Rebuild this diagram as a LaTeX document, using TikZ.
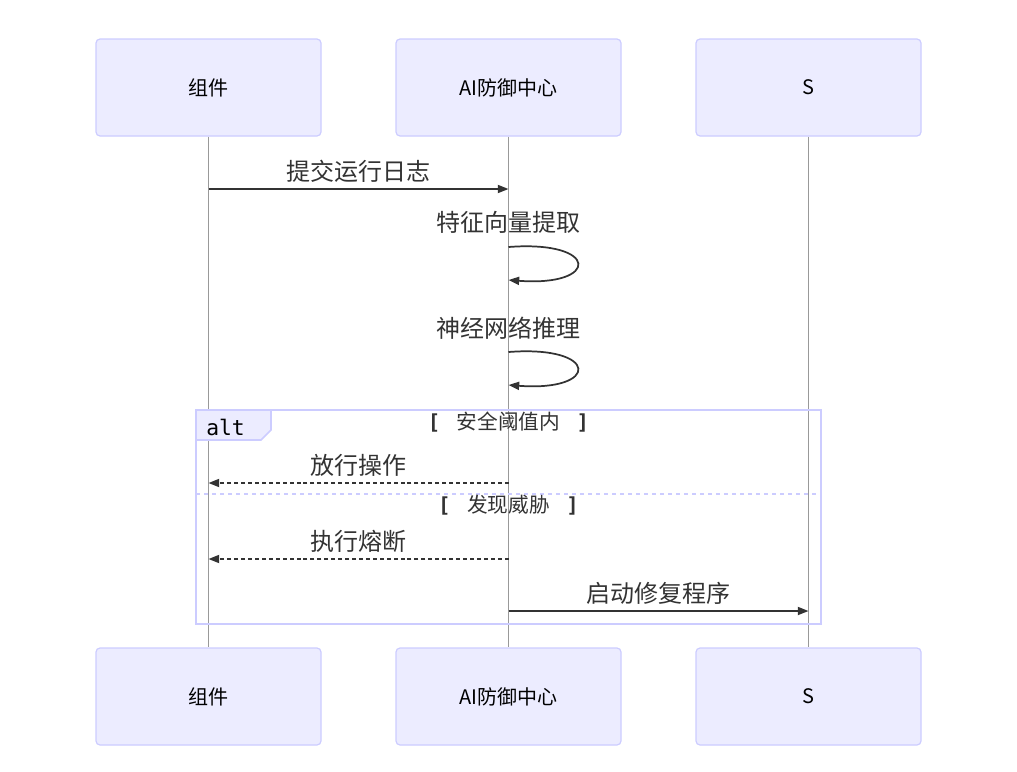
\documentclass[tikz,border=0pt]{standalone}
\usepackage{fontspec}
\setmainfont{Noto Sans CJK SC}
\newfontfamily\monofont{DejaVu Sans Mono}
\usepackage{tikz}
\usetikzlibrary{arrows.meta, positioning, calc}
\usepackage{xcolor}
\definecolor{actorfill}{RGB}{236,236,255}
\definecolor{actorline}{RGB}{204,204,255}
\definecolor{msgline}{RGB}{51,51,51}
\definecolor{lifeline}{RGB}{153,153,153}

\begin{document}
\begin{tikzpicture}[x=0.75pt, y=-0.75pt,
  actor/.style={draw=actorline, fill=actorfill, rounded corners=3pt, line width=0.9pt,
    minimum width=225*0.75pt, minimum height=97*0.75pt, inner sep=0pt, font=\fontsize{15}{18}\selectfont},
  msg/.style={draw=msgline, line width=1.3pt, -{Triangle[length=8pt,width=6pt]}},
  reply/.style={msg, dash pattern=on 3pt off 2.2pt},
  lbl/.style={font=\fontsize{18}{21}\selectfont, text=msgline, inner sep=0pt},
  guard/.style={font=\fontsize{15.5}{18}\selectfont, text=msgline, inner sep=0pt}]
  \useasboundingbox (0,0) rectangle (1017,771);

  % actors
  \node[actor] (compT) at (208.5,87.5) {组件};
  \node[actor] (aiT) at (508.5,87.5) {AI防御中心};
  \node[actor] (sT) at (808.5,87.5) {S};
  \node[actor] (compB) at (208.5,696.5) {组件};
  \node[actor] (aiB) at (508.5,696.5) {AI防御中心};
  \node[actor] (sB) at (808.5,696.5) {S};

  % lifelines
  \draw[lifeline, line width=0.6pt] (compT) -- (compB);
  \draw[lifeline, line width=0.6pt] (aiT) -- (aiB);
  \draw[lifeline, line width=0.6pt] (sT) -- (sB);

  % message rows
  \coordinate (r1) at (0,189);
  \coordinate (r2) at (0,247);
  \coordinate (r3) at (0,352);
  \coordinate (r4) at (0,483);
  \coordinate (r5) at (0,559);
  \coordinate (r6) at (0,611);

  \draw[msg] (compT |- r1) -- (aiT |- r1);
  \node[lbl] (l1) at (358.5,171) {提交运行日志};

  \draw[msg] (aiT |- r2) .. controls (600,240) and (600,287) .. ($(aiT |- r2)+(0,33)$);
  \node[lbl] (l2) at (508.5,222) {特征向量提取};

  \draw[msg] (aiT |- r3) .. controls (600,345) and (600,392) .. ($(aiT |- r3)+(0,33)$);
  \node[lbl] (l3) at (508.5,328) {神经网络推理};

  % alt frame
  \draw[actorline, line width=2pt] (196,410) rectangle (821,624);
  \draw[actorline, fill=actorfill, line width=1.2pt]
    (196,410) -- (271,410) -- (271,430) -- (261,440) -- (196,440) -- cycle;
  \node[font=\monofont\fontsize{16}{18}\selectfont, anchor=west, inner sep=0pt] (alt) at (206,427) {alt};
  \node[guard] (g1) at (508.5,422) {{\monofont\bfseries [}\hspace{0.8em}安全阈值内\hspace{0.8em}{\monofont\bfseries ]}};
  \draw[actorline, line width=1.5pt, dash pattern=on 3pt off 3pt] (196,494) -- (821,494);
  \node[guard] (g2) at (508.5,505) {{\monofont\bfseries [}\hspace{0.8em}发现威胁\hspace{0.8em}{\monofont\bfseries ]}};

  \draw[reply] (aiT |- r4) -- (compT |- r4);
  \node[lbl] (l4) at (358.5,465) {放行操作};

  \draw[reply] (aiT |- r5) -- (compT |- r5);
  \node[lbl] (l5) at (358.5,541) {执行熔断};

  \draw[msg] (aiT |- r6) -- (sT |- r6);
  \node[lbl] (l6) at (658.5,593) {启动修复程序};
\end{tikzpicture}
\end{document}
